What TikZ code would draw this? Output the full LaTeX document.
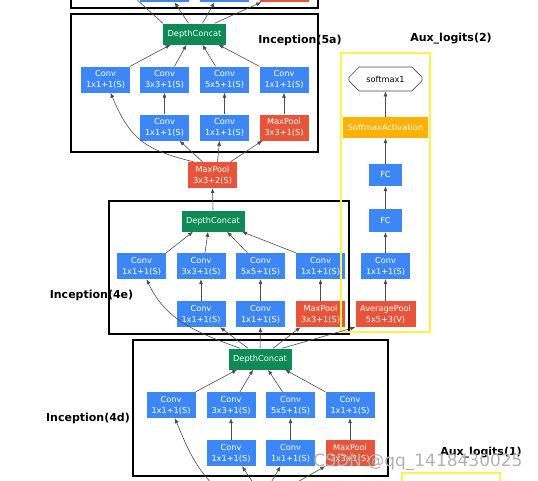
\documentclass[tikz,border=0pt]{standalone}
\usepackage{fontspec}
\setmainfont{DejaVu Sans}
\usetikzlibrary{arrows.meta,shapes.misc}
\definecolor{convblue}{HTML}{3D86F5}
\definecolor{poolred}{HTML}{E8543A}
\definecolor{concatgreen}{HTML}{0E8A57}
\definecolor{softorange}{HTML}{FFB000}
\definecolor{auxyellow}{HTML}{FFF24A}
\begin{document}
\begin{tikzpicture}[x=1pt,y=1pt]
\tikzstyle{every node}+=[inner sep=0pt]
\tikzstyle{conv}=[fill=convblue, text=white, minimum width=49pt, minimum height=26pt, align=center, font=\fontsize{8.2}{11}\selectfont]
\tikzstyle{pool}=[conv, fill=poolred]
\tikzstyle{concat}=[conv, fill=concatgreen, minimum width=63pt, minimum height=21pt]
\tikzstyle{arr}=[draw=black!70, line width=0.6pt, -{Latex[length=5pt,width=4pt]}]
\tikzstyle{block}=[draw=black, line width=1.8pt]
\tikzstyle{auxblock}=[draw=auxyellow, line width=2pt]
\tikzstyle{blocklabel}=[font=\bfseries\fontsize{11}{13}\selectfont]
\useasboundingbox (0,0) rectangle (538,-480);
\clip (0,0) rectangle (538,-480);
\fill[white] (0,0) rectangle (538,-480);
\node[blocklabel] (l5a) at (300,-40) {Inception(5a)};
\node[blocklabel] (l4e) at (91.5,-295) {Inception(4e)};
\node[blocklabel] (l4d) at (88,-418) {Inception(4d)};
\node[blocklabel] (laux2) at (451,-39) {Aux\_logits(2)};
\node[blocklabel] (laux1) at (481,-453) {Aux\_logits(1)};
\draw[block] (71,40) rectangle (318,-8);
\draw[block] (71,-14) rectangle (318,-152);
\draw[block] (109,-201) rectangle (349,-334);
\draw[block] (133,-340) rectangle (388,-476);
\node[conv] (r5b2) at (164.5,11) {};
\node[conv] (r5b3) at (224.5,11) {};
\node[pool] (mp5b) at (284,11) {};
\coordinate (c5b1) at (110,46);
\node[concat] (dc5a) at (194.5,-34) {DepthConcat};
\node[conv] (c5a1) at (105.5,-79.5) {Conv\\1x1+1(S)};
\node[conv] (c5a2) at (164.5,-79.5) {Conv\\3x3+1(S)};
\node[conv] (c5a3) at (224.5,-79.5) {Conv\\5x5+1(S)};
\node[conv] (c5a4) at (284,-79.5) {Conv\\1x1+1(S)};
\node[conv] (r5a2) at (164.5,-127.5) {Conv\\1x1+1(S)};
\node[conv] (r5a3) at (224.5,-127.5) {Conv\\1x1+1(S)};
\node[pool] (mp5a) at (284,-127.5) {MaxPool\\3x3+1(S)};
\node[pool] (mp4) at (212.5,-175) {MaxPool\\3x3+2(S)};
\node[concat] (dc4e) at (213,-221) {DepthConcat};
\node[conv] (c4e1) at (141.5,-266) {Conv\\1x1+1(S)};
\node[conv] (c4e2) at (201,-266) {Conv\\3x3+1(S)};
\node[conv] (c4e3) at (260.5,-266) {Conv\\5x5+1(S)};
\node[conv] (c4e4) at (320.5,-266) {Conv\\1x1+1(S)};
\node[conv] (r4e2) at (201,-314) {Conv\\1x1+1(S)};
\node[conv] (r4e3) at (260.5,-314) {Conv\\1x1+1(S)};
\node[pool] (mp4e) at (320.5,-314) {MaxPool\\3x3+1(S)};
\node[concat] (dc4d) at (260,-359) {DepthConcat};
\node[conv] (c4d1) at (171,-405) {Conv\\1x1+1(S)};
\node[conv] (c4d2) at (231,-405) {Conv\\3x3+1(S)};
\node[conv] (c4d3) at (290.5,-405) {Conv\\5x5+1(S)};
\node[conv] (c4d4) at (350,-405) {Conv\\1x1+1(S)};
\node[conv] (r4d2) at (231,-453) {Conv\\1x1+1(S)};
\node[conv] (r4d3) at (290.5,-453) {Conv\\1x1+1(S)};
\node[pool] (mp4d) at (350,-453) {MaxPool\\3x3+1(S)};
\coordinate (in4d) at (262,-505);
\node[draw=black!70, line width=0.6pt, chamfered rectangle, chamfered rectangle xsep=8pt, chamfered rectangle ysep=7pt, minimum width=73pt, minimum height=24pt, font=\fontsize{8.2}{11}\selectfont] (sm1) at (385.5,-79) {softmax1};
\node[conv, fill=softorange, minimum width=85pt, minimum height=21pt] (sact) at (385.5,-127.5) {SoftmaxActivation};
\node[conv, minimum width=33pt, minimum height=22pt] (fc2) at (385.5,-175) {FC};
\node[conv, minimum width=33pt, minimum height=23pt] (fc1) at (385.5,-220.5) {FC};
\node[conv] (auxc) at (385.5,-266) {Conv\\1x1+1(S)};
\node[pool, minimum width=60pt] (avg) at (385.5,-314) {AveragePool\\5x5+3(V)};
\draw[auxblock] (341,-53) rectangle (430,-332);
\draw[auxblock] (402,-473) rectangle (500,-520);
\draw[arr] (dc5a.north west) to[out=137,in=-75] (c5b1);
\draw[arr] ([xshift=-6pt]dc5a.north) -- ([xshift=10pt]r5b2.south);
\draw[arr] ([xshift=8pt]dc5a.north) -- ([xshift=-10pt]r5b3.south);
\draw[arr] ([xshift=20pt]dc5a.north) -- ([xshift=2pt]mp5b.south west);
\draw[arr] (c5a1.north east) -- ([xshift=-24pt]dc5a.south);
\draw[arr] ([xshift=10pt]c5a2.north) -- ([xshift=-8pt]dc5a.south);
\draw[arr] ([xshift=-9pt]c5a3.north) -- ([xshift=8pt]dc5a.south);
\draw[arr] (c5a4.north west) -- ([xshift=24pt]dc5a.south);
\draw[arr] (r5a2.north) -- (c5a2.south);
\draw[arr] (r5a3.north) -- (c5a3.south);
\draw[arr] (mp5a.north) -- (c5a4.south);
\draw[arr] ([xshift=-19pt]mp4.north) to[out=166,in=-67,looseness=1.2] ([xshift=5pt]c5a1.south);
\draw[arr] ([xshift=-10pt]mp4.north) -- ([xshift=15pt]r5a2.south);
\draw[arr] ([xshift=5pt]mp4.north) -- ([xshift=-5pt]r5a3.south);
\draw[arr] ([xshift=18pt]mp4.north) -- ([xshift=3pt]mp5a.south west);
\draw[arr] (dc4e.north) -- (mp4.south);
\draw[arr] (c4e1.north east) -- ([xshift=-20pt]dc4e.south);
\draw[arr] ([xshift=4pt]c4e2.north) -- ([xshift=-5pt]dc4e.south);
\draw[arr] ([xshift=-13pt]c4e3.north) -- ([xshift=14pt]dc4e.south);
\draw[arr] (c4e4.north west) -- ([xshift=29pt]dc4e.south);
\draw[arr] (r4e2.north) -- (c4e2.south);
\draw[arr] (r4e3.north) -- (c4e3.south);
\draw[arr] (mp4e.north) -- (c4e4.south);
\draw[arr] ([xshift=-20pt]dc4d.north) to[out=160,in=-65] ([xshift=5pt]c4e1.south);
\draw[arr] ([xshift=-12pt]dc4d.north) -- ([xshift=19pt]r4e2.south);
\draw[arr] (dc4d.north) -- (r4e3.south);
\draw[arr] ([xshift=13pt]dc4d.north) -- ([xshift=-20pt]mp4e.south);
\draw[arr] ([xshift=22pt]dc4d.north) -- (avg.south west);
\draw[arr] (c4d1.north east) -- ([xshift=-23pt]dc4d.south);
\draw[arr] ([xshift=9pt]c4d2.north) -- ([xshift=-7pt]dc4d.south);
\draw[arr] ([xshift=-8pt]c4d3.north) -- ([xshift=8pt]dc4d.south);
\draw[arr] (c4d4.north west) -- ([xshift=25pt]dc4d.south);
\draw[arr] (r4d2.north) -- (c4d2.south);
\draw[arr] (r4d3.north) -- (c4d3.south);
\draw[arr] (mp4d.north) -- (c4d4.south);
\draw[arr] ([xshift=-22pt]in4d) to[out=150,in=-68] ([xshift=4pt]c4d1.south);
\draw[arr] ([xshift=6pt]in4d) -- ([xshift=11pt]r4d2.south);
\draw[arr] ([xshift=-4pt]in4d) -- ([xshift=-10pt]r4d3.south);
\draw[arr] ([xshift=-5pt]in4d) -- (mp4d.south west);
\draw[arr] (avg.north) -- (auxc.south);
\draw[arr] (auxc.north) -- (fc1.south);
\draw[arr] (fc1.north) -- (fc2.south);
\draw[arr] (fc2.north) -- (sact.south);
\draw[arr] (sact.north) -- (sm1.south);
\node[text=gray!60, font=\fontsize{17}{17}\selectfont] (wm) at (418,-462) {CSDN @qq\_1418430025};
\end{tikzpicture}
\end{document}
